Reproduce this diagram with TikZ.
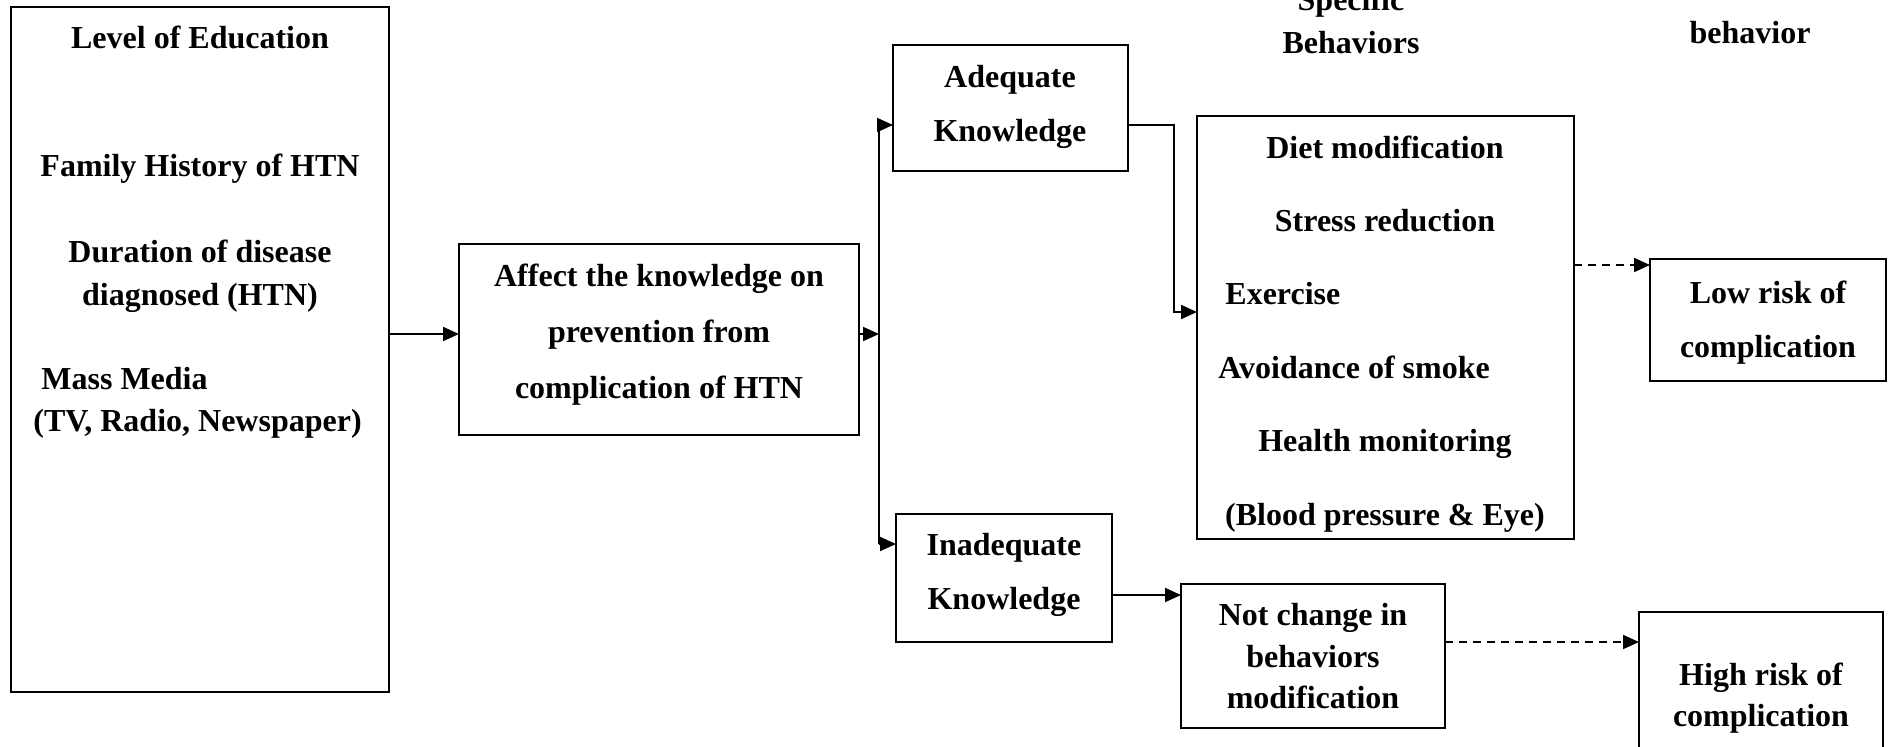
\documentclass[tikz,border=0pt]{standalone}
\usepackage{fontspec}
\setmainfont{Liberation Serif}
\usetikzlibrary{arrows.meta}
\begin{document}
\begin{tikzpicture}[x=0.5pt,y=-0.5pt,
  box/.style={draw, line width=1pt, anchor=north west, inner sep=0pt, outer sep=0pt},
  txt/.style={anchor=base, inner sep=0pt, font=\fontsize{16}{19}\selectfont\bfseries},
  txtw/.style={txt, anchor=base west},
  arr/.style={line width=1pt, -{Triangle[length=8pt,width=7pt]}},
  dashline/.style={arr, dash pattern=on 4pt off 3pt}]
\useasboundingbox (0,0) rectangle (1892,746);
\clip (0,0) rectangle (1892,746);
% boxes
\node[box, minimum width=189pt, minimum height=342.5pt] (left) at (11,7) {};
\node[box, minimum width=200pt, minimum height=95.5pt] (affect) at (459,244) {};
\node[box, minimum width=117.5pt, minimum height=63pt] (adequate) at (893,45) {};
\node[box, minimum width=108pt, minimum height=64pt] (inadequate) at (896,514) {};
\node[box, minimum width=188.5pt, minimum height=211.5pt] (diet) at (1197,116) {};
\node[box, minimum width=118pt, minimum height=61pt] (lowrisk) at (1650,259) {};
\node[box, minimum width=132pt, minimum height=72pt] (notchange) at (1181,584) {};
\node[box, minimum width=122pt, minimum height=100pt] (highrisk) at (1639,612) {};
% texts: left box
\node[txt] (t1) at (200,48) {Level of Education};
\node[txt] (t2) at (200,176) {Family History of HTN};
\node[txt] (t3) at (200,262) {Duration of disease};
\node[txt] (t4) at (200,305) {diagnosed (HTN)};
\node[txtw] (t5) at (41,389) {Mass Media};
\node[txtw] (t6) at (33,431) {(TV, Radio, Newspaper)};
% affect box
\node[txt] (a1) at (659,286) {Affect the knowledge on};
\node[txt] (a2) at (659,342) {prevention from};
\node[txt] (a3) at (659,398) {complication of HTN};
% adequate
\node[txt] (k1) at (1010,87) {Adequate};
\node[txt] (k2) at (1010,141) {Knowledge};
% inadequate
\node[txt] (i1) at (1004,555) {Inadequate};
\node[txt] (i2) at (1004,609) {Knowledge};
% diet box
\node[txt] (d1) at (1385,158) {Diet modification};
\node[txt] (d2) at (1385,231) {Stress reduction};
\node[txtw] (d3) at (1225,304) {Exercise};
\node[txtw] (d4) at (1218,378) {Avoidance of smoke};
\node[txt] (d5) at (1385,451) {Health monitoring};
\node[txt] (d6) at (1385,525) {(Blood pressure \& Eye)};
% low risk
\node[txt] (l1) at (1768,303) {Low risk of};
\node[txt] (l2) at (1768,357) {complication};
% not change
\node[txt] (n1) at (1313,625) {Not change in};
\node[txt] (n2) at (1313,667) {behaviors};
\node[txt] (n3) at (1313,708) {modification};
% high risk
\node[txt] (h1) at (1761,685) {High risk of};
\node[txt] (h2) at (1761,726) {complication};
% headings
\node[txt] (s1) at (1351,10) {Specific};
\node[txt] (s2) at (1351,53) {Behaviors};
\node[txt] (b1) at (1750,43) {behavior};
% connectors
\coordinate (mid) at (879,334);
\coordinate (j1) at (879,125);
\coordinate (j2) at (879,544);
\coordinate (bend) at (1174,312);
\draw[arr] (left.east |- mid) -- (affect.west |- mid);
\draw[arr] (affect.east |- mid) -- (mid);
\draw[line width=1pt] (j1) -- (j2);
\draw[arr] (j1) -- (adequate.west |- j1);
\draw[arr] (j2) -- (inadequate.west |- j2);
\draw[arr] (adequate.east |- j1) -| (bend) -- (diet.west |- bend);
\coordinate (e1) at ([yshift=-3pt]lowrisk.north west);
\draw[dashline] (diet.east |- e1) -- (e1);
\coordinate (e2) at ([yshift=-5.5pt]notchange.north west);
\draw[arr] (inadequate.east |- e2) -- (e2);
\coordinate (e3) at ([yshift=-15pt]highrisk.north west);
\draw[dashline] (notchange.east |- e3) -- (e3);
\end{tikzpicture}
\end{document}
